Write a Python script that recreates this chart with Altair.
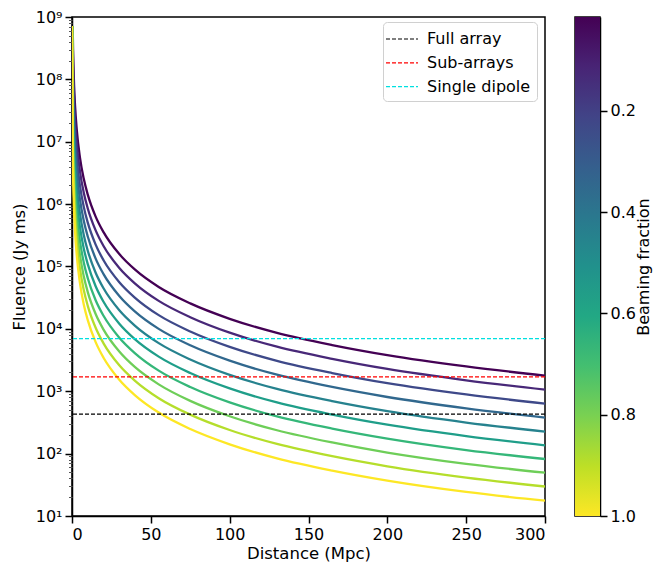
import altair as alt
import pandas as pd

# ---------------- data ----------------
DIST = [0.5, 1, 2, 3, 5, 7.5, 10, 15, 20, 30, 40, 55, 75, 100, 130, 165, 200, 250, 300]
START_DIST = [0.45, 0.35, 0.27, 0.21, 0.16, 0.125, 0.097, 0.075, 0.058, 0.045]
START_FLUENCE = 7.2e8
BEAMING = [0.01, 0.017, 0.028, 0.046, 0.077, 0.13, 0.22, 0.36, 0.6, 1.0]

FLUENCE = [
    [5.68e8, 1.42e8, 3.55e7, 1.58e7, 5.68e6, 2.52e6, 1.42e6, 6.31e5, 3.55e5, 1.58e5, 8.88e4, 4.69e4, 2.56e4, 1.45e4, 8640, 5510, 3800, 2500, 1780],
    [3.41e8, 8.52e7, 2.13e7, 9.48e6, 3.41e6, 1.51e6, 8.52e5, 3.79e5, 2.13e5, 9.48e4, 5.33e4, 2.81e4, 1.54e4, 8700, 5180, 3310, 2280, 1500, 1060],
    [2.02e8, 5.04e7, 1.26e7, 5.61e6, 2.02e6, 8.95e5, 5.04e5, 2.24e5, 1.26e5, 5.61e4, 3.15e4, 1.66e4, 9090, 5150, 3070, 1960, 1350, 888, 635],
    [1.21e8, 3.02e7, 7.56e6, 3.37e6, 1.21e6, 5.37e5, 3.02e5, 1.34e5, 7.56e4, 3.37e4, 1.89e4, 9990, 5450, 3090, 1840, 1170, 809, 533, 379],
    [7.16e7, 1.79e7, 4.47e6, 1.99e6, 7.16e5, 3.18e5, 1.79e5, 7.95e4, 4.47e4, 1.99e4, 1.12e4, 5910, 3230, 1830, 1090, 694, 479, 315, 226],
    [4.35e7, 1.09e7, 2.72e6, 1.21e6, 4.35e5, 1.93e5, 1.09e5, 4.83e4, 2.72e4, 1.21e4, 6790, 3590, 1960, 1110, 661, 422, 291, 191, 136],
    [2.60e7, 6.49e6, 1.62e6, 7.22e5, 2.60e5, 1.15e5, 6.49e4, 2.88e4, 1.62e4, 7220, 4060, 2140, 1170, 663, 395, 252, 174, 114, 82],
    [1.56e7, 3.89e6, 9.73e5, 4.33e5, 1.56e5, 6.90e4, 3.89e4, 1.73e4, 9730, 4330, 2430, 1290, 701, 397, 237, 151, 104, 68.5, 49.5],
    [9.37e6, 2.34e6, 5.86e5, 2.61e5, 9.37e4, 4.16e4, 2.34e4, 1.04e4, 5860, 2610, 1470, 774, 422, 239, 143, 90.9, 62.7, 41.3, 29.7],
    [5.51e6, 1.38e6, 3.44e5, 1.53e5, 5.51e4, 2.44e4, 1.38e4, 6120, 3440, 1530, 861, 455, 248, 141, 83.8, 53.4, 36.9, 24.3, 17.6],
]
CURVE_COLORS = ["#440154", "#482878", "#3e4989", "#31688e", "#26828e",
                "#1f9e89", "#35b779", "#6ece58", "#b5de2b", "#fde725"]

THRESH_LABELS = ["Full array", "Sub-arrays", "Single dipole"]
THRESH_VALUES = [430, 1700, 7000]
THRESH_COLORS = ["#000000", "#ff0000", "#00e0e0"]

X_TICKS = [0, 50, 100, 150, 200, 250, 300]
Y_TICKS = [1e1, 1e2, 1e3, 1e4, 1e5, 1e6, 1e7, 1e8, 1e9]
CBAR_DOMAIN = [0.015, 1.0]
CBAR_TICKS = [0.2, 0.4, 0.6, 0.8, 1.0]
VIRIDIS_STOPS = ["#440154", "#482475", "#414487", "#355f8d", "#2a788e", "#21918c",
                 "#22a884", "#44bf70", "#7ad151", "#bddf26", "#fde725"]

FONT = "DejaVu Sans"

# ---------------- tables ----------------
rows = []
for k, vals in enumerate(FLUENCE):
    rows.append({"curve": k, "beaming": BEAMING[k], "distance": START_DIST[k], "fluence": START_FLUENCE})
    for d, f in zip(DIST, vals):
        rows.append({"curve": k, "beaming": BEAMING[k], "distance": d, "fluence": f})
curves_df = pd.DataFrame(rows)
thresh_df = pd.DataFrame({"label": THRESH_LABELS, "value": THRESH_VALUES})
cbar_df = pd.DataFrame({"lo": [CBAR_DOMAIN[0]], "hi": [CBAR_DOMAIN[1]], "x0": [0], "x1": [1]})

minor_ticks = [m * 10 ** e for e in range(1, 9) for m in range(2, 10)]

y_scale = alt.Scale(type="log", domain=[Y_TICKS[0], Y_TICKS[-1]], nice=False)
sup = "['⁰','¹','²','³','⁴','⁵','⁶','⁷','⁸','⁹']"

W, H = 473, 499

lines = alt.Chart(curves_df).mark_line(strokeWidth=2.3, interpolate="monotone", clip=True).encode(
    x=alt.X("distance:Q", scale=alt.Scale(domain=[0, 300], nice=False),
            axis=alt.Axis(values=X_TICKS, title="Distance (Mpc)", grid=False, format="d", titlePadding=3)),
    y=alt.Y("fluence:Q", scale=y_scale,
            axis=alt.Axis(values=Y_TICKS, title="Fluence (Jy ms)", grid=False, titlePadding=8,
                          labelExpr="'10' + " + sup + "[round(log(datum.value)/LN10)]")),
    color=alt.Color("curve:O", scale=alt.Scale(domain=list(range(10)), range=CURVE_COLORS), legend=None),
    detail="curve:N",
)

rules = alt.Chart(thresh_df).mark_rule(strokeWidth=1.2, strokeDash=[4, 2]).encode(
    y=alt.Y("value:Q", scale=y_scale,
            axis=alt.Axis(values=minor_ticks, orient="left", labels=False, title=None,
                          domain=False, grid=False, tickSize=3.5, tickWidth=1, tickColor="#555555")),
    color=alt.Color("label:N", scale=alt.Scale(domain=THRESH_LABELS, range=THRESH_COLORS),
                    legend=alt.Legend(title=None, orient="none", legendX=311, legendY=5,
                                      symbolType="M-1.6,0L1.6,0", symbolDash=[4, 2], symbolStrokeWidth=1.2,
                                      symbolSize=400, symbolOffset=2, labelFontSize=16, labelOffset=14,
                                      padding=6, rowPadding=4.8, fillColor="white",
                                      strokeColor="#d0d0d0", cornerRadius=4)),
)

main = alt.layer(lines, rules).resolve_scale(color="independent").resolve_axis(y="independent").properties(
    width=W, height=H)

cbar = alt.Chart(cbar_df).mark_rect(
    fill=alt.Gradient(gradient="linear", x1=0, x2=0, y1=0, y2=1,
                      stops=[alt.GradientStop(offset=i / 10, color=c) for i, c in enumerate(VIRIDIS_STOPS)])
).encode(
    x=alt.X("x0:Q", scale=alt.Scale(domain=[0, 1], nice=False), axis=None),
    x2="x1:Q",
    y=alt.Y("lo:Q", scale=alt.Scale(domain=CBAR_DOMAIN, reverse=True, nice=False, zero=False),
            axis=alt.Axis(orient="right", values=CBAR_TICKS, format=".1f", title="Beaming fraction",
                          titleAngle=270, titleBaseline="top", titlePadding=0, titleFontSize=16,
                          grid=False)),
    y2="hi:Q",
).properties(width=25, height=H)

chart = alt.hconcat(main, cbar, spacing=30, bounds="flush").properties(
    padding={"left": 2, "top": 0, "right": 0, "bottom": 0}
).configure_view(stroke="black", strokeWidth=1.5).configure_axis(
    labelFont=FONT, titleFont=FONT, labelFontSize=16, titleFontSize=16.5,
    labelColor="black", titleColor="black", titleFontWeight="normal",
    domainColor="black", domainWidth=1.5, tickColor="black", tickWidth=1.5, tickSize=7,
    labelPadding=3,
).configure_legend(labelFont=FONT, labelColor="black")

chart.save("out.html", embed_options={"renderer": "svg", "actions": False})
